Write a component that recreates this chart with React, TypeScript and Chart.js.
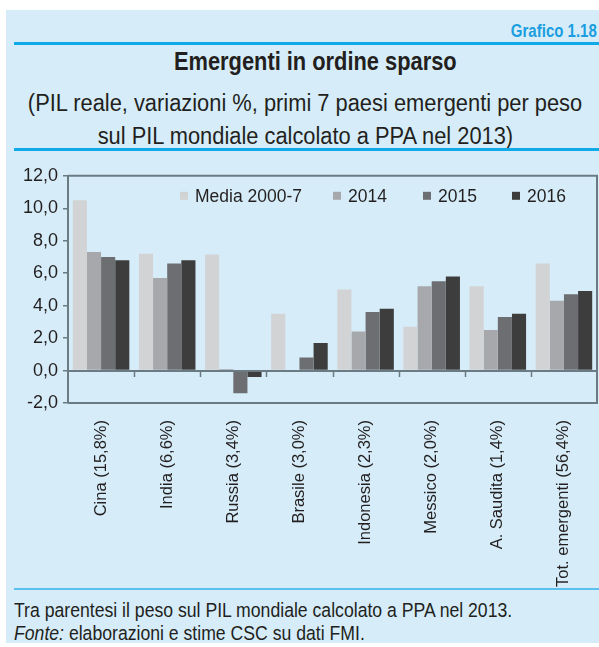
import React, { useEffect, useRef } from "react";
import { Chart, registerables } from "chart.js";

Chart.register(...registerables);

const categories = [
  "Cina (15,8%)",
  "India (6,6%)",
  "Russia (3,4%)",
  "Brasile (3,0%)",
  "Indonesia (2,3%)",
  "Messico (2,0%)",
  "A. Saudita (1,4%)",
  "Tot. emergenti (56,4%)",
];
const seriesLabels = ["Media 2000-7", "2014", "2015", "2016"];
const media2000_7 = [10.5, 7.2, 7.15, 3.5, 5.0, 2.7, 5.2, 6.6];
const v2014 = [7.3, 5.7, 0.1, 0.0, 2.4, 5.2, 2.5, 4.3];
const v2015 = [7.0, 6.6, -1.4, 0.8, 3.6, 5.5, 3.3, 4.7];
const v2016 = [6.8, 6.8, -0.4, 1.7, 3.8, 5.8, 3.5, 4.9];
const seriesColors = ["#d2d3d5", "#a7a8ab", "#6d6e71", "#3d3d3e"];
const yMin = -2;
const yMax = 12;
const yStep = 2;

const AXIS = "#6b7b83";
const TEXT = "#231f20";
const SANS = '"Liberation Sans", Arial, sans-serif';

const boxPlugin = {
  id: "boxAndZero",
  afterDatasetsDraw(chart: any) {
    const { ctx, chartArea, scales } = chart;
    const { left, right, top, bottom } = chartArea;
    ctx.save();
    ctx.strokeStyle = AXIS;
    ctx.lineWidth = 2;
    ctx.beginPath();
    ctx.moveTo(left, top);
    ctx.lineTo(right, top);
    ctx.lineTo(right, bottom);
    ctx.lineTo(left, bottom);
    ctx.stroke();
    const y0 = Math.round(scales.y.getPixelForValue(0));
    ctx.beginPath();
    ctx.moveTo(left, y0);
    ctx.lineTo(right, y0);
    ctx.stroke();
    const n = chart.data.labels.length;
    const w = (right - left) / n;
    ctx.lineWidth = 1.5;
    ctx.beginPath();
    for (let i = 1; i < n; i++) {
      const x = Math.round(left + i * w) + 0.5;
      ctx.moveTo(x, y0);
      ctx.lineTo(x, y0 + 6);
    }
    ctx.stroke();

    const offsets = [112, 265, 355, 444];
    const ly = top + 20;
    ctx.font = `17.5px ${SANS}`;
    ctx.textBaseline = "middle";
    ctx.textAlign = "left";
    chart.data.datasets.forEach((ds: any, i: number) => {
      const x = left + offsets[i];
      ctx.fillStyle = ds.backgroundColor;
      ctx.fillRect(x, ly - 4, 8, 8);
      ctx.fillStyle = TEXT;
      ctx.fillText(ds.label, x + 15, ly + 1);
    });
    ctx.restore();
  },
};

function ChartCanvas() {
  const ref = useRef<HTMLCanvasElement | null>(null);
  useEffect(() => {
    if (!ref.current) return;
    const values = [media2000_7, v2014, v2015, v2016];
    const chart = new Chart(ref.current, {
      type: "bar",
      data: {
        labels: categories,
        datasets: seriesLabels.map((label, i) => ({
          label,
          data: values[i],
          backgroundColor: seriesColors[i],
          borderWidth: 0,
          categoryPercentage: 0.855,
          barPercentage: 1.0,
        })),
      },
      options: {
        animation: false,
        responsive: false,
        maintainAspectRatio: false,
        devicePixelRatio: 1,
        layout: { padding: { left: 0, right: 2, top: 12, bottom: 0 } },
        plugins: {
          legend: { display: false },
          tooltip: { enabled: false },
        },
        scales: {
          x: {
            grid: { display: false },
            border: { display: false },
            ticks: {
              minRotation: 90,
              maxRotation: 90,
              autoSkip: false,
              padding: 9,
              color: TEXT,
              font: { family: SANS, size: 16.5 },
            },
            afterFit: (s: any) => {
              s.height = 185;
            },
          },
          y: {
            min: yMin,
            max: yMax,
            grid: {
              drawOnChartArea: false,
              drawTicks: true,
              tickLength: 5,
              color: AXIS,
              lineWidth: 1.5,
            },
            border: { display: true, color: AXIS, width: 2 },
            ticks: {
              stepSize: yStep,
              padding: 5,
              color: TEXT,
              font: { family: SANS, size: 18 },
              callback: (v: any) => Number(v).toFixed(1).replace(".", ","),
            },
            afterFit: (s: any) => {
              s.width = 62;
            },
          },
        },
      },
      plugins: [boxPlugin],
    } as any);
    return () => chart.destroy();
  }, []);
  return (
    <canvas
      ref={ref}
      width={593}
      height={428}
      style={{ position: "absolute", left: 0, top: 150, width: 593, height: 428 }}
    />
  );
}

function Squeeze({ s, origin, children }: { s: number; origin: string; children: React.ReactNode }) {
  return (
    <span style={{ display: "inline-block", transform: `scaleX(${s})`, transformOrigin: origin }}>
      {children}
    </span>
  );
}

export default function App() {
  const panel: React.CSSProperties = {
    position: "absolute",
    left: 6,
    top: 10,
    width: 593,
    height: 633,
    background: "#d6edf9",
    overflow: "hidden",
  };
  const abs = (top: number, extra: React.CSSProperties = {}): React.CSSProperties => ({
    position: "absolute",
    top: top - 10,
    whiteSpace: "nowrap",
    ...extra,
  });
  return (
    <div style={{ position: "absolute", left: 0, top: 0, width: 599, height: 647, background: "#fff" }}>
      <div style={panel}>
        <div
          style={abs(21, {
            right: 2,
            fontFamily: SANS,
            fontWeight: 700,
            fontSize: 19,
            lineHeight: "19px",
            color: "#1a9ee0",
          })}
        >
          <Squeeze s={0.79} origin="right center">Grafico 1.18</Squeeze>
        </div>
        <div style={{ position: "absolute", left: 8, right: 0, top: 32, height: 3, background: "#10a9e9" }} />
        <div
          style={abs(48, {
            left: -41,
            width: 700,
            textAlign: "center",
            fontFamily: SANS,
            fontWeight: 700,
            fontSize: 26,
            lineHeight: "26px",
            color: TEXT,
          })}
        >
          <Squeeze s={0.84} origin="center">Emergenti in ordine sparso</Squeeze>
        </div>
        <div
          style={abs(87, {
            left: -51,
            width: 700,
            textAlign: "center",
            fontFamily: SANS,
            fontSize: 23.5,
            lineHeight: "33px",
            color: TEXT,
          })}
        >
          <Squeeze s={0.93} origin="center">(PIL reale, variazioni %, primi 7 paesi emergenti per peso</Squeeze>
          <br />
          <Squeeze s={0.93} origin="center">sul PIL mondiale calcolato a PPA nel 2013)</Squeeze>
        </div>
        <div style={{ position: "absolute", left: 8, right: 0, top: 138, height: 3, background: "#10a9e9" }} />
        <ChartCanvas />
        <div style={{ position: "absolute", left: 8, right: 0, top: 578, height: 2, background: "#5cc0ee" }} />
        <div
          style={abs(598, {
            left: 8,
            fontFamily: SANS,
            fontSize: 20.5,
            lineHeight: "23px",
            color: TEXT,
          })}
        >
          <Squeeze s={0.86} origin="left center">Tra parentesi il peso sul PIL mondiale calcolato a PPA nel 2013.</Squeeze>
          <br />
          <Squeeze s={0.86} origin="left center">
            <i>Fonte:</i> elaborazioni e stime CSC su dati FMI.
          </Squeeze>
        </div>
      </div>
    </div>
  );
}
